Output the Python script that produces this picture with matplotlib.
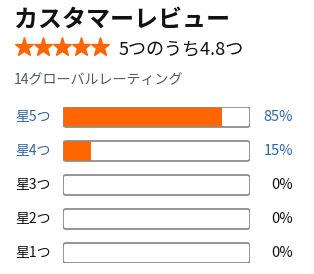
import matplotlib.pyplot as plt
from matplotlib.patches import FancyBboxPatch

plt.rcParams['font.family'] = ['Noto Sans CJK JP', 'DejaVu Sans']

# data
title = 'カスタマーレビュー'
rating = 4.8
rating_text = '5つのうち4.8つ'
n_ratings = 14
count_text = '14グローバルレーティング'
row_labels = ['星5つ', '星4つ', '星3つ', '星2つ', '星1つ']
percents = [85, 15, 0, 0, 0]
link_rows = [True, True, False, False, False]

W, H = 314, 274
orange = '#ff6600'
blue = '#2f64a3'
dark = '#111111'
grey = '#565959'

fig = plt.figure(figsize=(W / 100, H / 100), dpi=100)

# background axes in pixel coordinates for the text
ax = fig.add_axes([0, 0, 1, 1])
ax.set_xlim(0, W)
ax.set_ylim(H, 0)
ax.axis('off')

ax.text(14, 20, title, fontsize=17.3, fontweight='bold', color=dark, va='center', ha='left')

# stars
star_x = [24 + 19 * i for i in range(5)]
ax.plot(star_x, [47] * 5, ls='none', marker='*', markersize=14, color=orange, mec=orange)
ax.text(119, 49, rating_text, fontsize=13, color=dark, va='center', ha='left')
ax.text(14, 80, count_text, fontsize=10.1, color=grey, va='center', ha='left')

# bars axes
pitch, bar_px = 34, 20
top, left, right = 107, 63, 250
h = bar_px / pitch
n = len(percents)
total_px = (n - 1) * pitch + bar_px
bx = fig.add_axes([left / W, 1 - (top + total_px) / H, (right - left) / W, total_px / H])
bx.set_xlim(0, 100)
bx.set_ylim(n - 1 + h / 2, -h / 2)
bx.axis('off')

aspect = ((right - left) / 100) / pitch
for i, (lab, p, link) in enumerate(zip(row_labels, percents, link_rows)):
    box = FancyBboxPatch((0, i - h / 2), 100, h,
                         boxstyle='round,pad=0,rounding_size=1.7',
                         mutation_aspect=aspect, fc='white', ec='#8d8d8d', lw=1.0,
                         zorder=1)
    bx.add_patch(box)
    bars = bx.barh(i, p, height=h, color=orange, zorder=2)
    for b in bars:
        b.set_clip_path(box)
    edge = FancyBboxPatch((0, i - h / 2), 100, h,
                          boxstyle='round,pad=0,rounding_size=1.7',
                          mutation_aspect=aspect, fc='none', ec='#8d8d8d', lw=1.0,
                          zorder=3)
    bx.add_patch(edge)

    col = blue if link else dark
    yc = top + bar_px / 2 + i * pitch
    ax.text(15, yc, lab, fontsize=10, color=col, va='center', ha='left')
    ax.text(293, yc, f'{p}%', fontsize=10.5, color=col, va='center', ha='right')

fig.savefig('out.png', dpi=100)
